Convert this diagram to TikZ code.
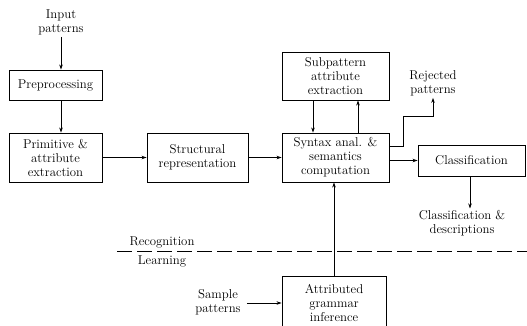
\documentclass[tikz,border=0pt]{standalone}
\usetikzlibrary{arrows.meta}
\begin{document}
\begin{tikzpicture}[x=1pt,y=-1pt,
    font=\fontsize{12.8}{14}\selectfont,
    box/.style={draw,line width=0.9pt,align=center,inner sep=2pt},
    lbl/.style={align=center,inner sep=2pt},
    flow/.style={-{Stealth[length=5pt,width=3.5pt]},line width=0.7pt}]
  \useasboundingbox (0,0) rectangle (527,325);
  % boxes
  \node[box,minimum width=93,minimum height=30] (prep) at (55.5,85) {Preprocessing};
  \node[box,minimum width=93,minimum height=49] (prim) at (55.5,157.5) {Primitive \&\\attribute\\extraction};
  \node[box,minimum width=101,minimum height=49] (struc) at (197.5,157.5) {Structural\\representation};
  \node[box,minimum width=107,minimum height=49] (syn) at (335.5,157.5) {Syntax anal. \&\\semantics\\computation};
  \node[box,minimum width=107,minimum height=48] (sub) at (335.5,76) {Subpattern\\attribute\\extraction};
  \node[box,minimum width=107,minimum height=31] (cls) at (471.5,160.5) {Classification};
  \node[box,minimum width=104,minimum height=54] (att) at (334,303) {Attributed\\grammar\\inference};
  % texts
  \node[lbl] (inp) at (61,22) {Input\\patterns};
  \node[lbl] (rej) at (433,83) {Rejected\\patterns};
  \node[lbl] (desc) at (462,223.5) {Classification \&\\descriptions};
  \node[lbl] (samp) at (218,302) {Sample\\patterns};
  \node[lbl] (rec) at (162,242) {Recognition};
  \node[lbl] (lrn) at (162,261) {Learning};
  \coordinate (dl) at (117,251);
  \coordinate (dr) at (527,251);
  % connectors
  \draw[flow] (inp.south) -- (inp.south |- prep.north);
  \draw[flow] ([xshift=5.5]prep.south) -- ([xshift=5.5]prim.north);
  \draw[flow] (prim) -- (struc);
  \draw[flow] (struc) -- (syn);
  \draw[flow] ([xshift=-22.5]sub.south) -- ([xshift=-22.5]syn.north);
  \draw[flow] ([xshift=22.5]syn.north) -- ([xshift=22.5]sub.south);
  \draw[flow] ([yshift=11.5]syn.east) -- ++(14,0) -- ++(0,-30) -| (rej.south);
  \draw[flow] (syn.east |- cls.west) -- (cls.west);
  \draw[flow] ([xshift=-1.5]cls.south) -- ([xshift=-1.5]cls.south |- desc.north);
  \draw[flow] (att.north) -- (att.north |- syn.south);
  \draw[flow,shorten <=4pt] (samp.east |- att.west) -- (att.west);
  \draw[line width=0.8pt,dash pattern=on 15pt off 5pt] (dl) -- (dr);
\end{tikzpicture}
\end{document}
